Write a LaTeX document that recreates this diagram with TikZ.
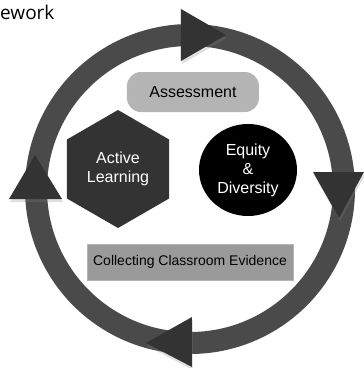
\documentclass[tikz,border=0pt]{standalone}
\usepackage{fontspec}
\setmainfont{Liberation Sans}
\newfontfamily\titlefont{Open Sans}
\usetikzlibrary{shapes.geometric,shadows}
\definecolor{ringgray}{HTML}{4A4A4A}
\definecolor{headgray}{HTML}{333333}
\definecolor{boxlight}{HTML}{B4B4B4}
\definecolor{boxmid}{HTML}{9A9A9A}
\begin{document}
\begin{tikzpicture}[x=1pt,y=-1pt,
        arrowhead/.style={fill=headgray,drop shadow={shadow xshift=1pt,shadow yshift=-3pt,opacity=0.25}},
        boxtext/.style={font=\fontsize{16}{19}\selectfont,align=center,inner sep=0pt}]
            \useasboundingbox (0,0) rectangle (364,368);
            \node[anchor=base west,inner sep=0pt,font=\titlefont\fontsize{19}{22}\selectfont] (title) at (0,19) {ework};

            % the cycle
            \coordinate (C) at (190,189);
            \draw[ringgray,line width=22pt] (C) circle[radius=154];
            \fill[arrowhead] (181,9) -- (181,61) -- (226,35) -- cycle;
            \fill[arrowhead] (313,172) -- (364,172) -- (339,218) -- cycle;
            \fill[arrowhead] (192,317) -- (192,367) -- (146,343) -- cycle;
            \fill[arrowhead] (9,199) -- (62,199) -- (35,155) -- cycle;

            \begin{scope}[every node/.style={boxtext}]
                \node[fill=boxlight,rounded corners=14pt,minimum width=132pt,minimum height=40pt] (assess) at (193,92) {Assessment};
                \node[fill=headgray,text=white,regular polygon,regular polygon sides=6,shape border rotate=30,minimum size=118pt] (active) at (118,169) {Active\\Learning};
                \node[fill=black,text=white,ellipse,minimum width=98pt,minimum height=92pt] (equity) at (248,170) {Equity\\\&\\Diversity};
                \node[fill=boxmid,draw=boxlight,minimum width=206pt,minimum height=36pt,font=\fontsize{14}{17}\selectfont] (evidence) at (190,262) {Collecting Classroom Evidence};
            \end{scope}
\end{tikzpicture}
\end{document}
